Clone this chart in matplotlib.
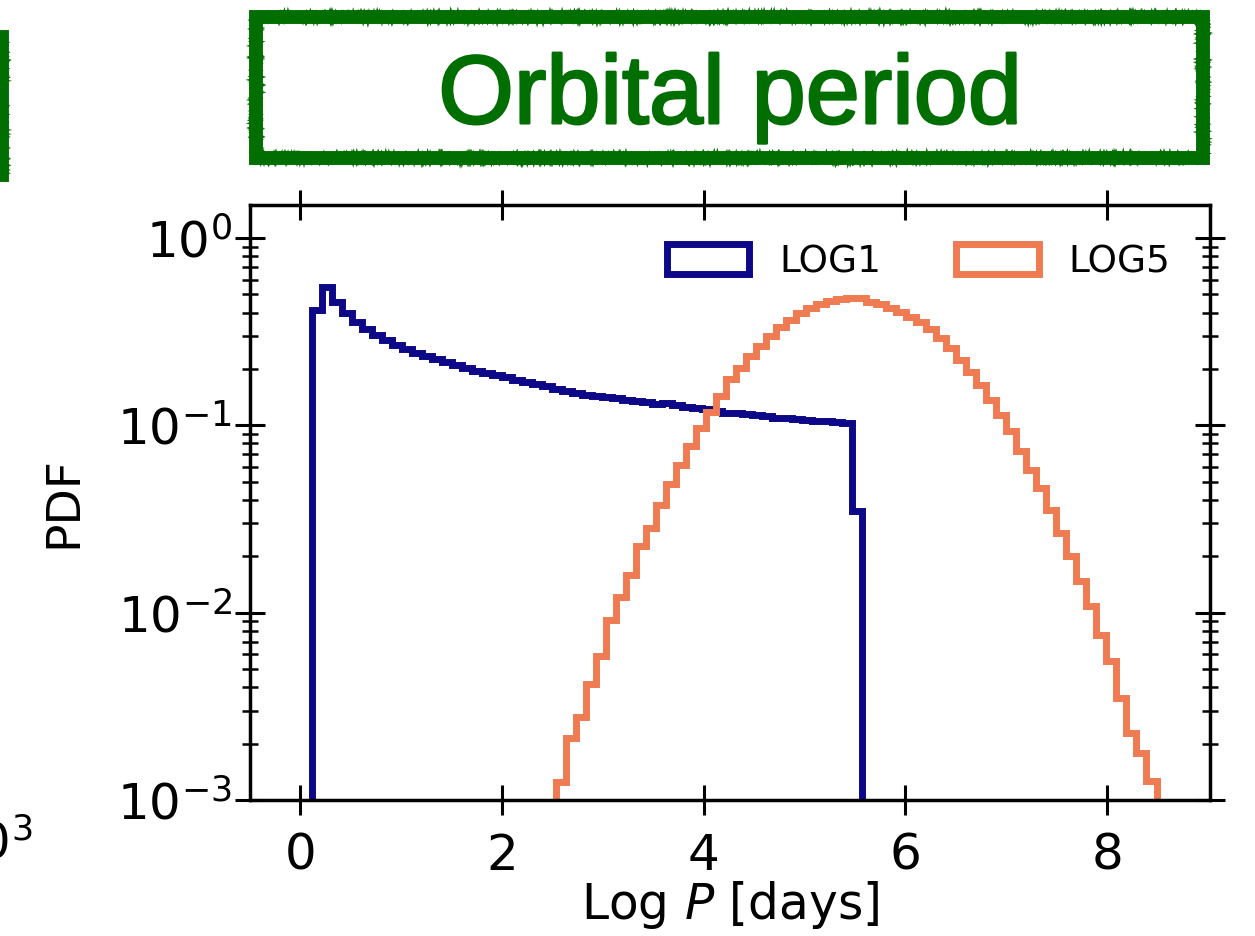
import numpy as np
import matplotlib
matplotlib.use('Agg')
import matplotlib.pyplot as plt
import matplotlib.patheffects as pe
from matplotlib.patches import Rectangle

# histogram bins (log P in days) and PDF values
log1_edges = np.linspace(0.11, 5.57, 56)
log1_pdf = [0.413, 0.55, 0.454, 0.397, 0.355, 0.325, 0.302, 0.285, 0.270, 0.257,
            0.244, 0.234, 0.226, 0.218, 0.210, 0.203, 0.196, 0.190, 0.185, 0.180,
            0.175, 0.170, 0.166, 0.162, 0.157, 0.152, 0.148, 0.146, 0.144, 0.142,
            0.140, 0.137, 0.135, 0.133, 0.130, 0.131, 0.128, 0.126, 0.124, 0.122,
            0.119, 0.116, 0.117, 0.115, 0.113, 0.112, 0.110, 0.109, 0.108, 0.107,
            0.106, 0.105, 0.104, 0.103, 0.035]

log5_edges = np.linspace(2.53, 8.49, 61)
log5_pdf = [0.00124, 0.00215, 0.00277, 0.00417, 0.0059, 0.0091, 0.0121, 0.0158,
            0.0228, 0.0283, 0.0377, 0.0486, 0.0616, 0.0778, 0.0967, 0.1185, 0.144,
            0.176, 0.202, 0.233, 0.265, 0.300, 0.336, 0.365, 0.397, 0.422, 0.445,
            0.461, 0.473, 0.480, 0.477, 0.457, 0.443, 0.425, 0.405, 0.380, 0.358,
            0.326, 0.292, 0.258, 0.224, 0.192, 0.164, 0.137, 0.114, 0.0927, 0.0725,
            0.058, 0.0462, 0.0354, 0.0266, 0.020, 0.0147, 0.0108, 0.00764, 0.0055,
            0.0035, 0.00228, 0.00179, 0.00126]

labels = ['LOG1', 'LOG5']
colors = ['#0d0887', '#ef7b52']
green = '#006e00'

fig = plt.figure(figsize=(12.55, 9.36), dpi=100)
ax = fig.add_axes([0.1992, 0.1453, 0.7649, 0.6357])

ax.set_yscale('log')
ax.hist(log1_edges[:-1], bins=log1_edges, weights=log1_pdf, histtype='step',
        lw=5, color=colors[0], label=labels[0])
ax.hist(log5_edges[:-1], bins=log5_edges, weights=log5_pdf, histtype='step',
        lw=5, color=colors[1], label=labels[1])

ax.set_xlim(-0.5, 9.02)
ax.set_ylim(1e-3, 1.5)
ax.set_xticks([0, 2, 4, 6, 8])
ax.set_xlabel('Log $P$ [days]', fontsize=35, labelpad=-1)
ax.set_ylabel('PDF', fontsize=34, labelpad=22)

for s in ax.spines.values():
    s.set_linewidth(2.5)
ax.tick_params(which='major', direction='inout', length=22, width=2.2,
               top=True, right=True, labelsize=36, pad=12)
ax.tick_params(which='minor', direction='inout', length=11, width=1.8,
               top=True, right=True)
ax.tick_params(axis='y', which='major', pad=2)

ax.legend(loc='upper right', ncol=2, frameon=False, fontsize=27,
          handlelength=2.2, handleheight=0.85, handletextpad=0.8,
          columnspacing=2.0, borderaxespad=0.65)


def rough_box(x0, y0, x1, y1):
    base = Rectangle((x0, y0), x1 - x0, y1 - y0, transform=fig.transFigure,
                     fill=False, ec=green, lw=10, clip_on=False)
    fig.add_artist(base)
    for lw, sc, ln, rnd in [(4, 1.5, 3, 2), (3, 2.5, 2, 3), (2, 3.0, 1.5, 2)]:
        r = Rectangle((x0, y0), x1 - x0, y1 - y0, transform=fig.transFigure,
                      fill=False, ec=green, lw=lw, clip_on=False)
        r.set_sketch_params(sc, ln, rnd)
        fig.add_artist(r)


rough_box(256 / 1255, 0.8312, 1203 / 1255, 0.9818)
rough_box(-0.5, 0.813, 2 / 1255, 0.9605)
fig.text(730 / 1255, 0.895, 'Orbital period', color=green, fontsize=70,
         family='Liberation Sans', ha='center', va='center',
         path_effects=[pe.withStroke(linewidth=1.8, foreground=green)])

# tick label of the neighbouring panel, cut at the edge
fig.text(32 / 1255, (936 - 858) / 936, r'$10^3$', fontsize=36,
         ha='right', va='baseline')

fig.savefig('out.png', dpi=100)
